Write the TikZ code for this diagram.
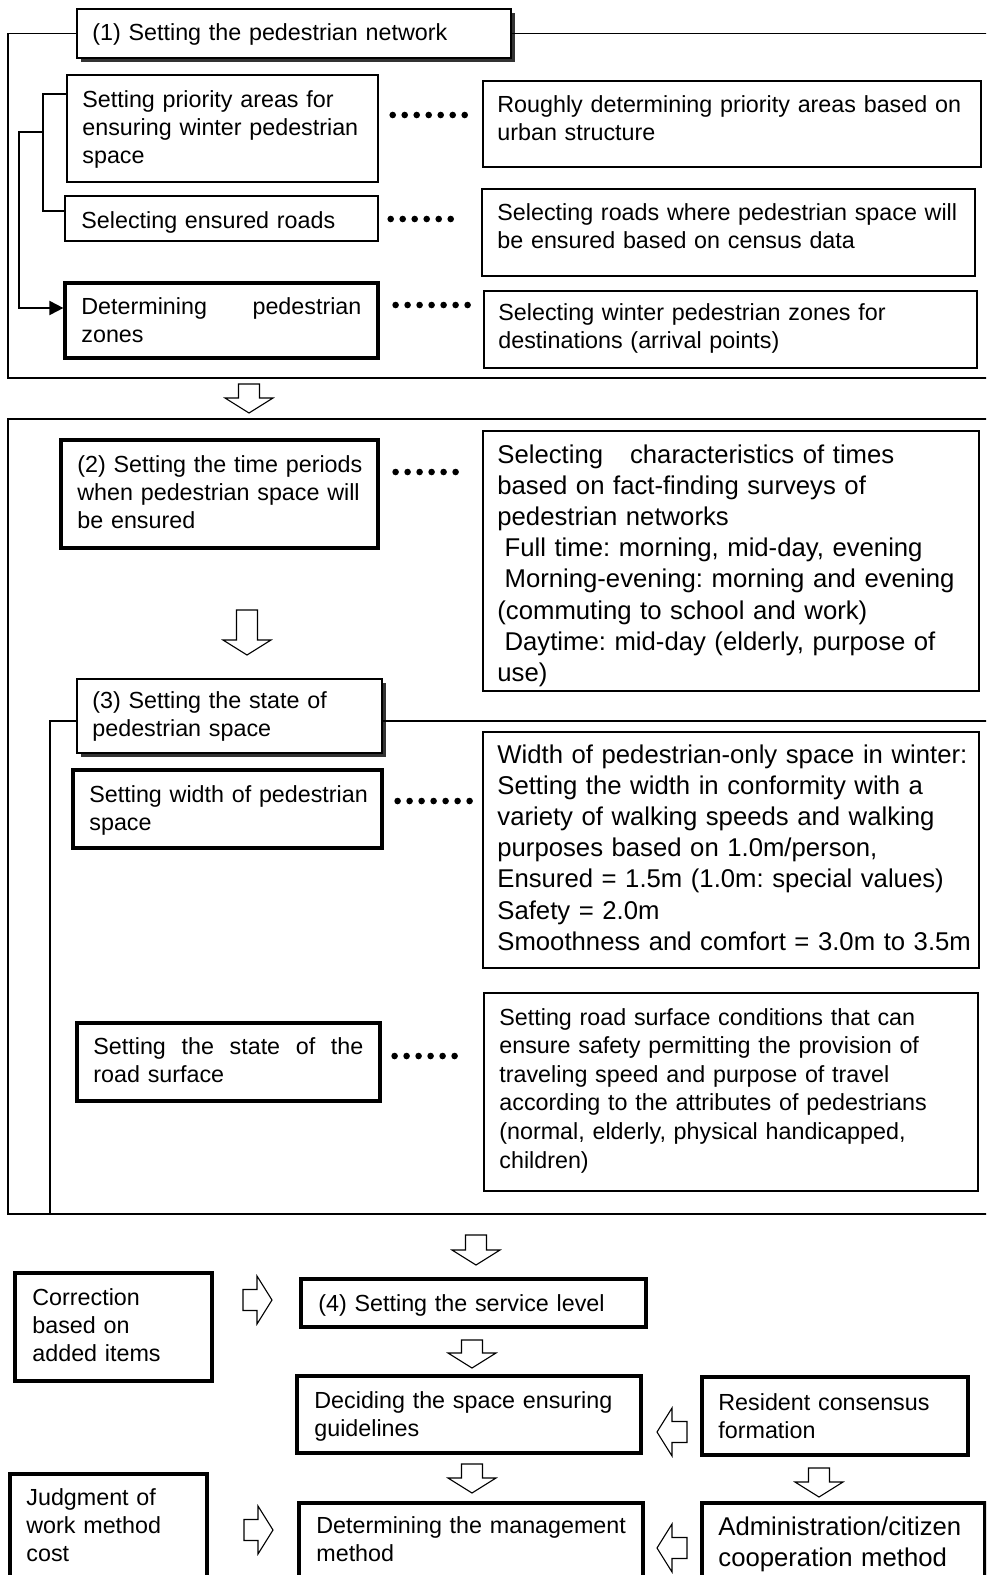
\documentclass[tikz,border=0pt]{standalone}
\usepackage{fontspec}
\setmainfont{Liberation Sans}
\usetikzlibrary{fit, shadows, arrows.meta}
\frenchspacing

\tikzset{
  frame/.style={line width=0.8pt},
  thinbox/.style={draw, line width=0.7pt, inner sep=0pt},
  thickbox/.style={draw, line width=1.6pt, inner sep=0pt},
  titlebox/.style={draw, fill=white, line width=0.6pt, inner sep=0pt,
    drop shadow={shadow xshift=2pt, shadow yshift=-2pt, fill=black!80, opacity=1}},
  txt/.style={anchor=base west, inner sep=0pt, align=left, font=\fontsize{11.65pt}{14pt}\selectfont},
  bigtxt/.style={txt, font=\fontsize{12.85pt}{15.6pt}\selectfont},
  pics/hollow/.style={code={
    \draw[line width=0.55pt, fill=white] (0,-10.5) -- ({#1-15},-10.5) -- ({#1-15},-24)
      -- (#1,0) -- ({#1-15},24) -- ({#1-15},10.5) -- (0,10.5) -- cycle;
  }},
}

% row of dots after a box: node, y, offset, count
\newcommand{\dotrow}[4]{%
  \foreach \k in {1,...,#4}
    \fill (#1.east |- 0,#2) ++({#3+12*(\k-1)},0) circle[radius=1.65pt];
}

\begin{document}
\begin{tikzpicture}[x=0.5pt, y=-0.5pt]
\useasboundingbox (0,0) rectangle (986,1575);
\clip (0,0) rectangle (986,1575);

% (1) Pedestrian network
\node[titlebox, fit={(77,9) (511,58)}] (net) {};
\node[txt, text width=205pt] (net-t) at (92,40) {(1) Setting the pedestrian network};
\node[thinbox, fit={(67,75) (378,182)}] (prio) {};
\node[txt, text width=148pt] (prio-t) at (82,107) {Setting priority areas for\\ensuring winter pedestrian\\space};
\node[thinbox, fit={(65,196) (378,241)}] (road) {};
\node[txt, text width=148pt] (road-t) at (81,228) {Selecting ensured roads};
\node[thickbox, fit={(65,283) (378,358)}] (zone) {};
\node[txt, text width=140pt] (zone-t) at (81,314) {Determining\hfill pedestrian\\zones};

\node[thinbox, fit={(483,81) (981,167)}] (prio-n) {};
\node[txt, text width=242pt] (prio-n-t) at (497,112) {Roughly determining priority areas based on\\urban structure};
\node[thinbox, fit={(482,189) (975,276)}] (road-n) {};
\node[txt, text width=239pt] (road-n-t) at (497,220) {Selecting roads where pedestrian space will\\be ensured based on census data};
\node[thinbox, fit={(484,291) (977,368)}] (zone-n) {};
\node[txt, text width=239pt] (zone-n-t) at (498,320) {Selecting winter pedestrian zones for\\destinations (arrival points)};

% Frame of (1)
\draw[frame] (net.west) -| (8,378) -- (990,378);
\draw[frame] (net.east) -- (990,33.5);

% Bracket
\draw[line width=0.65pt] (prio.west |- 0,94) -| (43,211) -- (road.west |- 0,211);
\draw[line width=1pt, -{Triangle[length=7pt, width=7pt]}] (43,132) -| (19,308) -- (zone.west |- 0,308);

% Dots
\dotrow{prio}{115}{14}{7}
\dotrow{road}{219}{12}{6}
\dotrow{zone}{305}{16}{7}

\pic[rotate=-90] at (249,384) {hollow=29};

% (2) Time periods
\node[thickbox, fit={(61,440) (378,548)}] (per) {};
\node[txt, text width=150pt] (per-t) at (77,472) {(2) Setting the time periods\\when pedestrian space will\\be ensured};
\node[thinbox, fit={(483,431) (979,691)}] (per-n) {};
\node[bigtxt, text width=240pt] (per-n-t) at (497,463) {Selecting\hspace{13.5pt}characteristics of times\\based on fact-finding surveys of\\pedestrian networks\\\hspace*{3.6pt}Full time: morning, mid-day, evening\\\hspace*{3.6pt}Morning-evening: morning and evening\\(commuting to school and work)\\\hspace*{3.6pt}Daytime: mid-day (elderly, purpose of\\use)};
\dotrow{per}{472}{16}{6}

\pic[rotate=-90] at (247,610) {hollow=45};

% (3) State of pedestrian space
\node[titlebox, fit={(77,679) (382,753)}] (st) {};
\node[txt, text width=145pt] (st-t) at (92,708) {(3) Setting the state of\\pedestrian space};
\node[thickbox, fit={(73,770) (382,848)}] (wid) {};
\node[txt, text width=146pt] (wid-t) at (89,802) {Setting width of pedestrian\\space};
\node[thinbox, fit={(483,732) (979,968)}] (wid-n) {};
\node[bigtxt, text width=240pt] (wid-n-t) at (497,763) {Width of pedestrian-only space in winter:\\Setting the width in conformity with a\\variety of walking speeds and walking\\purposes based on 1.0m/person,\\Ensured = 1.5m (1.0m: special values)\\Safety = 2.0m\\Smoothness and comfort = 3.0m to 3.5m};
\node[thickbox, fit={(77,1023) (380,1101)}] (srf) {};
\node[txt, text width=135pt] (srf-t) at (93,1054) {Setting\hfill the\hfill state\hfill of\hfill the\\road surface};
\node[thinbox, fit={(484,993) (978,1191)}] (srf-n) {};
\node[txt, text width=239pt, font=\fontsize{11.65pt}{14.3pt}\selectfont] (srf-n-t) at (499,1025) {Setting road surface conditions that can\\ensure safety permitting the provision of\\traveling speed and purpose of travel\\according to the attributes of pedestrians\\(normal, elderly, physical handicapped,\\children)};
\dotrow{wid}{801}{14}{7}
\dotrow{srf}{1056}{13}{6}

% Frames of (2) and (3)
\draw[frame] (990,419) -| (8,1214) -- (990,1214);
\draw[frame] (st.west |- 0,721) -| (50,1214);
\draw[frame] (st.east |- 0,721) -- (990,721);

\pic[rotate=-90] at (476,1235) {hollow=30};

% (4) Service level
\node[thickbox, fit={(15,1273) (212,1381)}] (cor) {};
\node[txt, text width=90pt] (cor-t) at (32,1305) {Correction\\based on\\added items};
\node[thickbox, fit={(301,1279) (646,1327)}] (svc) {};
\node[txt, text width=164pt] (svc-t) at (318,1311) {(4) Setting the service level};
\node[thickbox, fit={(297,1376) (641,1453)}] (dec) {};
\node[txt, text width=163pt] (dec-t) at (314,1408) {Deciding the space ensuring\\guidelines};
\node[thickbox, fit={(702,1377) (968,1455)}] (res) {};
\node[txt, text width=125pt] (res-t) at (718,1410) {Resident consensus\\formation};
\node[thickbox, fit={(10,1474) (207,1600)}] (jud) {};
\node[txt, text width=90pt] (jud-t) at (26,1505) {Judgment of\\work method\\cost};
\node[thickbox, fit={(299,1503) (643,1600)}] (mgt) {};
\node[txt, text width=163pt] (mgt-t) at (316,1533) {Determining the management\\method};
\node[thickbox, fit={(702,1503) (985,1600)}] (adm) {};
\node[bigtxt, text width=133pt] (adm-t) at (718,1535) {Administration/citizen\\cooperation method};

% Block arrows
\pic at (243,1300) {hollow=29};
\pic at (244,1530) {hollow=29};
\pic[rotate=-90] at (472,1340) {hollow=28};
\pic[rotate=-90] at (472,1464) {hollow=29};
\pic[rotate=-90] at (819,1468) {hollow=29};
\pic[rotate=180] at (687,1432) {hollow=30};
\pic[rotate=180] at (687,1548) {hollow=30};
\end{tikzpicture}
\end{document}
